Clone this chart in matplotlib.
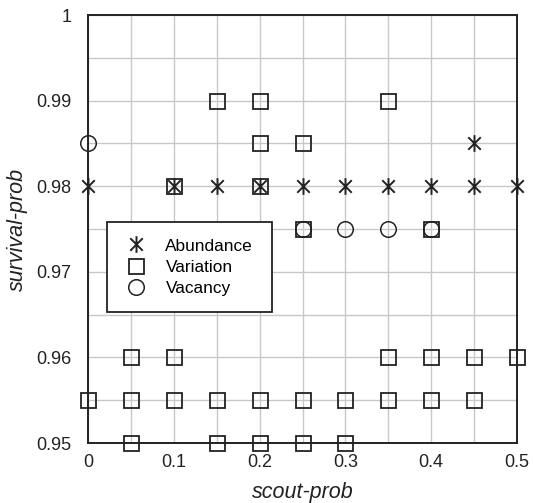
import matplotlib

matplotlib.use("Agg")
import matplotlib.pyplot as plt
import numpy as np
from matplotlib.path import Path

# data
abundance_x = [0, 0.1, 0.15, 0.2, 0.25, 0.3, 0.35, 0.4, 0.45, 0.5, 0.45]
abundance_y = [0.98, 0.98, 0.98, 0.98, 0.98, 0.98, 0.98, 0.98, 0.98, 0.98, 0.985]

variation_x = [0.15, 0.2, 0.35,
               0.2, 0.25,
               0.1, 0.2,
               0.25, 0.4,
               0.05, 0.1, 0.35, 0.4, 0.45, 0.5,
               0, 0.05, 0.1, 0.15, 0.2, 0.25, 0.3, 0.35, 0.4, 0.45,
               0.05, 0.15, 0.2, 0.25, 0.3]
variation_y = [0.99, 0.99, 0.99,
               0.985, 0.985,
               0.98, 0.98,
               0.975, 0.975,
               0.96, 0.96, 0.96, 0.96, 0.96, 0.96,
               0.955, 0.955, 0.955, 0.955, 0.955, 0.955, 0.955, 0.955, 0.955, 0.955,
               0.95, 0.95, 0.95, 0.95, 0.95]

vacancy_x = [0, 0.25, 0.3, 0.35, 0.4]
vacancy_y = [0.985, 0.975, 0.975, 0.975, 0.975]

x_ticks = [0, 0.1, 0.2, 0.3, 0.4, 0.5]
x_labels = ["0", "0.1", "0.2", "0.3", "0.4", "0.5"]
y_ticks = [0.95, 0.96, 0.97, 0.98, 0.99, 1.0]
y_labels = ["0.95", "0.96", "0.97", "0.98", "0.99", "1"]

INK = "#222222"
GRID = "#c8c8c8"

# asterisk: vertical bar plus an X
ASTERISK = Path(
    [(0, -1), (0, 1), (-0.75, -0.75), (0.75, 0.75), (-0.75, 0.75), (0.75, -0.75)],
    [Path.MOVETO, Path.LINETO] * 3,
)

plt.rcParams.update({"font.family": ["Liberation Sans", "DejaVu Sans"], "font.size": 13})
fig = plt.figure(figsize=(5.33, 5.03), dpi=100, facecolor="white")
ax = fig.add_axes([88 / 533, 1 - 443 / 503, 429 / 533, 428 / 503])

common = dict(linestyle="none", clip_on=False, zorder=3)
ax.plot(variation_x, variation_y, marker="s", markersize=10.8, markerfacecolor="none",
        markeredgecolor=INK, markeredgewidth=1.3, label="Variation", **common)
ax.plot(vacancy_x, vacancy_y, marker="o", markersize=11.2, markerfacecolor="none",
        markeredgecolor=INK, markeredgewidth=1.1, label="Vacancy", **common)
ax.plot(abundance_x, abundance_y, marker=ASTERISK, markersize=12, markerfacecolor="none",
        markeredgecolor=INK, markeredgewidth=1.4, label="Abundance", **common)

ax.set_xlim(0, 0.5)
ax.set_ylim(0.95, 1.0)
ax.set_xticks(x_ticks, x_labels)
ax.set_yticks(y_ticks, y_labels)
ax.set_xticks(np.arange(0, 0.501, 0.05), minor=True)
ax.set_yticks(np.arange(0.95, 1.0001, 0.005), minor=True)
ax.tick_params(which="both", length=0, colors=INK, labelsize=13)
ax.tick_params(axis="x", pad=8)
ax.tick_params(axis="y", pad=12)
ax.grid(which="both", color=GRID, linewidth=1.0, zorder=0)
ax.set_axisbelow(True)
for spine in ax.spines.values():
    spine.set_color(INK)
    spine.set_linewidth(1.4)

ax.set_xlabel("scout-prob", fontstyle="italic", fontsize=15.5, color=INK, labelpad=8)
ax.set_ylabel("survival-prob", fontstyle="italic", fontsize=15.5, color=INK, labelpad=6)

handles, labels = ax.get_legend_handles_labels()
order = [2, 0, 1]
leg = ax.legend([handles[i] for i in order], [labels[i] for i in order],
                loc="lower left", bbox_to_anchor=(0.044, 0.306, 0.386, 0.208), mode="expand",
                fancybox=False, framealpha=1, edgecolor=INK, fontsize=12.4,
                handlelength=1.5, handletextpad=0.95, labelspacing=0.35, borderpad=0.95,
                borderaxespad=0)
leg.get_frame().set_linewidth(1.3)
leg.set_zorder(5)

fig.savefig("out.png", dpi=100, facecolor="white")
